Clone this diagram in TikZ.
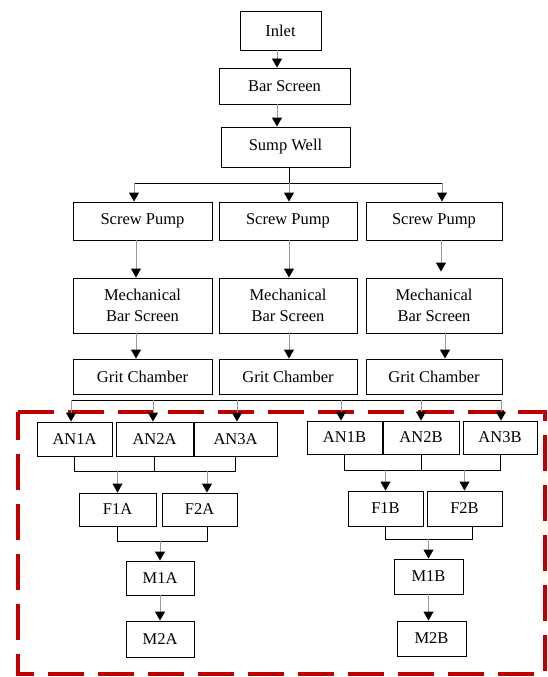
\documentclass[tikz,border=0pt]{standalone}
\usepackage{fontspec}
\setmainfont{Liberation Serif}
\usetikzlibrary{arrows.meta}
\definecolor{zonered}{RGB}{192,0,0}
\begin{document}
\begin{tikzpicture}[x=1pt,y=-1pt,
  box/.style={draw=black,line width=0.9pt,inner sep=0pt,font=\fontsize{16.5}{21}\selectfont,align=center},
  arr/.style={draw=black!40,line width=0.9pt,-{Triangle[width=10pt,length=9pt,black]}},
  ln/.style={draw=black,line width=0.9pt},
  zone/.style={draw=zonered,line width=3.5pt,dash pattern=on 36pt off 14pt}]
\useasboundingbox (0,0) rectangle (547,677);
% dashed zone
\draw[zone] (18,412) -- (545,412) -- (545,674) -- (18,674) -- cycle;
% top nodes
\node[box,minimum width=81pt,minimum height=39pt] (inlet) at (280.5,30.5) {Inlet};
\node[box,minimum width=131pt,minimum height=36pt] (bar) at (284.5,86) {Bar Screen};
\node[box,minimum width=129pt,minimum height=40pt] (sump) at (285.5,147) {Sump Well};
% three lines
\node[box,minimum width=139pt,minimum height=38pt] (sp1) at (142.5,221) {Screw Pump};
\node[box,minimum width=138pt,minimum height=38pt] (sp2) at (288,221) {Screw Pump};
\node[box,minimum width=136pt,minimum height=38pt] (sp3) at (434,221) {Screw Pump};
\node[box,minimum width=139pt,minimum height=55pt] (mb1) at (142.5,305.5) {Mechanical\\Bar Screen};
\node[box,minimum width=138pt,minimum height=55pt] (mb2) at (288,305.5) {Mechanical\\Bar Screen};
\node[box,minimum width=136pt,minimum height=55pt] (mb3) at (434,305.5) {Mechanical\\Bar Screen};
\node[box,minimum width=139pt,minimum height=35pt] (gc1) at (142.5,376.5) {Grit Chamber};
\node[box,minimum width=138pt,minimum height=35pt] (gc2) at (288,376.5) {Grit Chamber};
\node[box,minimum width=136pt,minimum height=35pt] (gc3) at (434,376.5) {Grit Chamber};
% A train
\node[box,minimum width=75pt,minimum height=34pt] (an1a) at (74.5,439) {AN1A};
\node[box,minimum width=77pt,minimum height=34pt] (an2a) at (154.5,439) {AN2A};
\node[box,minimum width=83pt,minimum height=34pt] (an3a) at (235.5,439) {AN3A};
\node[box,minimum width=77pt,minimum height=33pt] (f1a) at (117.5,509.5) {F1A};
\node[box,minimum width=75pt,minimum height=33pt] (f2a) at (199.5,509.5) {F2A};
\node[box,minimum width=68pt,minimum height=34pt] (m1a) at (160,578) {M1A};
\node[box,minimum width=68pt,minimum height=36pt] (m2a) at (160,639) {M2A};
% B train
\node[box,minimum width=75pt,minimum height=33pt] (an1b) at (344.5,437.5) {AN1B};
\node[box,minimum width=76pt,minimum height=33pt] (an2b) at (421,437.5) {AN2B};
\node[box,minimum width=74pt,minimum height=33pt] (an3b) at (500,437.5) {AN3B};
\node[box,minimum width=75pt,minimum height=35pt] (f1b) at (385.5,508.5) {F1B};
\node[box,minimum width=75pt,minimum height=35pt] (f2b) at (464.5,508.5) {F2B};
\node[box,minimum width=69pt,minimum height=35pt] (m1b) at (428.5,576.5) {M1B};
\node[box,minimum width=69pt,minimum height=35pt] (m2b) at (431.5,638.5) {M2B};
% helper coordinates
\coordinate (xa) at (277,0);
\coordinate (b1) at (134,183);
\coordinate (b2) at (289,183);
\coordinate (b3) at (442,183);
\coordinate (c1) at (136,0);
\coordinate (c2) at (289,0);
\coordinate (c3) at (441,0);
\coordinate (d3) at (445,0);
\coordinate (g1) at (71,400);
\coordinate (g2) at (153,400);
\coordinate (g3) at (237,400);
\coordinate (g4) at (341,400);
\coordinate (g5) at (421,400);
\coordinate (g6) at (501,400);
\coordinate (ha) at (0,471);
\coordinate (hb) at (0,470);
\coordinate (fa2) at (207,0);
\coordinate (ma) at (0,541);
\coordinate (fb2) at (472,0);
\coordinate (mb) at (0,539);
% top connectors
\draw[arr] (inlet.south -| xa) -- (bar.north -| xa);
\draw[arr] (bar.south -| xa) -- (sump.north -| xa);
\draw[ln] (sump.south -| b2) -- (b2);
\draw[ln] (b1) -- (b3);
\draw[arr] (b1) -- (b1 |- sp1.north);
\draw[arr] (b2) -- (b2 |- sp2.north);
\draw[arr] (b3) -- (b3 |- sp3.north);
\draw[arr] (sp1.south -| c1) -- (mb1.north -| c1);
\draw[arr] (sp2.south -| c2) -- (mb2.north -| c2);
\draw[arr,shorten >=6pt] (sp3.south -| c3) -- (mb3.north -| c3);
\draw[arr] (mb1.south -| c1) -- (gc1.north -| c1);
\draw[arr] (mb2.south -| c2) -- (gc2.north -| c2);
\draw[arr] (mb3.south -| d3) -- (gc3.north -| d3);
% grit bus
\draw[ln] (g1) -- (g6);
\draw[arr] (g1) -- (g1 |- an1a.north);
\draw[arr] (g2) -- (g2 |- an2a.north);
\draw[arr] (g3) -- (g3 |- an3a.north);
\draw[arr] (g4) -- (g4 |- an1b.north);
\draw[arr] (g5) -- (g5 |- an2b.north);
\draw[arr] (g6) -- (g6 |- an3b.north);
% A train connectors
\draw[ln] (an1a.south) |- (an3a.south |- ha) -- (an3a.south);
\draw[ln] (an2a.south) -- (an2a.south |- ha);
\draw[arr] (f1a.north |- ha) -- (f1a.north);
\draw[arr] (fa2 |- ha) -- (f2a.north -| fa2);
\draw[ln] (f1a.south) |- (fa2 |- ma) -- (f2a.south -| fa2);
\draw[arr] (m1a.north |- ma) -- (m1a.north);
\draw[arr] (m1a.south) -- (m2a.north);
% B train connectors
\draw[ln] (an1b.south) |- (an3b.south |- hb) -- (an3b.south);
\draw[ln] (an2b.south) -- (an2b.south |- hb);
\draw[arr] (f1b.north |- hb) -- (f1b.north);
\draw[arr] (f2b.north |- hb) -- (f2b.north);
\draw[ln] (f1b.south) |- (fb2 |- mb) -- (f2b.south -| fb2);
\draw[arr] (m1b.north |- mb) -- (m1b.north);
\draw[arr] (m1b.south) -- (m1b.south |- m2b.north);
\end{tikzpicture}
\end{document}
